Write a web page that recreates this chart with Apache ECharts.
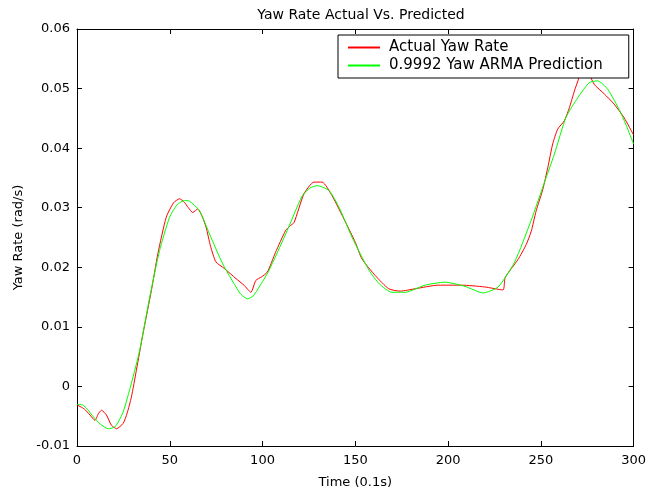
<!DOCTYPE html>
<html>
<head>
<meta charset="utf-8">
<script src="https://cdn.jsdelivr.net/npm/echarts@6/dist/echarts.min.js"></script>
<style>html,body{margin:0;padding:0;background:#fff}#c{width:649px;height:496px}</style>
</head>
<body>
<div id="c"></div>
<script>
const titleText = 'Yaw Rate Actual Vs. Predicted';
const xName = 'Time (0.1s)';
const yName = 'Yaw Rate (rad/s)';
const seriesNames = ['Actual Yaw Rate', '0.9992 Yaw ARMA Prediction'];
const xTicks = [0, 50, 100, 150, 200, 250, 300];
const yTicks = [-0.01, 0, 0.01, 0.02, 0.03, 0.04, 0.05, 0.06];
const yTickLabels = ['-0.01', '0', '0.01', '0.02', '0.03', '0.04', '0.05', '0.06'];

const actualYaw = [
  [0,-0.0031],[4,-0.0038],[7,-0.0048],[9.7,-0.0057],[11.5,-0.0046],[13.2,-0.0040],[15.9,-0.0048],
  [18.5,-0.0065],[21.3,-0.0071],[24.9,-0.0062],[27,-0.0045],[29.3,-0.0018],[32,0.0027],[35.6,0.0089],
  [40.1,0.0161],[43.6,0.0223],[48.1,0.0284],[52,0.0308],[55.3,0.0315],[57.9,0.0309],[60,0.0300],
  [62.4,0.0292],[65.1,0.0298],[67.5,0.0285],[69.6,0.0267],[72,0.0235],[74.9,0.0209],[79.4,0.0198],
  [85.7,0.0181],[90,0.0170],[93.7,0.0158],[96.4,0.0178],[99.5,0.0184],[102.6,0.0192],[107,0.0225],
  [112.5,0.0262],[115,0.0270],[117,0.0275],[122.3,0.0323],[127.7,0.0343],[132.1,0.0343],[137.5,0.0320],
  [144.7,0.0276],[150,0.0242],[153.6,0.0214],[160.8,0.0186],[168,0.0164],[174.2,0.0160],[182.3,0.0164],
  [194.7,0.0170],[207.2,0.0170],[219.7,0.0167],[229.6,0.0162],[230.8,0.0183],[237.7,0.0213],
  [242.1,0.0238],[244.8,0.0260],[247.5,0.0295],[251.1,0.0331],[253.8,0.0368],[256.4,0.0407],
  [259.1,0.0432],[262.7,0.0446],[265.4,0.0468],[268.1,0.0496],[270,0.0513],[273,0.0542],[276,0.0525],
  [278.8,0.0507],[284.2,0.0491],[289.5,0.0474],[294.9,0.0451],[300,0.0422]
];

const predictedYaw = [
  [0,-0.0030],[3,-0.0031],[5.5,-0.0038],[8.8,-0.0051],[12.5,-0.0063],[16.8,-0.0071],[20.4,-0.0068],
  [22.5,-0.0058],[24.9,-0.0043],[29.3,0.0005],[33.8,0.0061],[39.2,0.0150],[44.5,0.0228],[49.9,0.0284],
  [54,0.0305],[57.9,0.0312],[60.6,0.0311],[66,0.0295],[71.4,0.0256],[78.5,0.0206],[85.7,0.0167],
  [88.5,0.0154],[91.9,0.0147],[95,0.0152],[98.2,0.0167],[103.2,0.0193],[112.5,0.0256],[121.4,0.0320],
  [125.5,0.0333],[129.4,0.0337],[135.8,0.0329],[141.2,0.0301],[148.3,0.0250],[157.4,0.0195],
  [163,0.0172],[169.7,0.0158],[176.9,0.0158],[187.6,0.0170],[198.3,0.0175],[209.1,0.0168],
  [218.9,0.0157],[227,0.0167],[235.9,0.0209],[244.8,0.0279],[252,0.0343],[257.3,0.0390],
  [263.6,0.0452],[270,0.0485],[276.1,0.0510],[280.6,0.0513],[286,0.0499],[292.2,0.0465],
  [295.8,0.0440],[300,0.0407]
];

const font = 'DejaVu Sans';
const xMin = xTicks[0], xMax = xTicks[xTicks.length - 1], xStep = xTicks[1] - xTicks[0];
const yMin = yTicks[0], yMax = yTicks[yTicks.length - 1], yStep = 0.01;
const yFmt = v => yTickLabels[Math.round((v - yMin) / yStep)] || '';

const chart = echarts.init(document.getElementById('c'), null, {renderer: 'canvas'});
const axisCommon = {
  type: 'value',
  axisLine: {show: true, onZero: false, lineStyle: {color: '#000', width: 1}},
  axisTick: {show: true, inside: true, length: 5, lineStyle: {color: '#000'}},
  splitLine: {show: false}
};
chart.setOption({
  animation: false,
  backgroundColor: '#fff',
  title: {
    text: titleText, left: 356, top: 3, textAlign: 'center',
    textStyle: {fontFamily: font, fontSize: 14, fontWeight: 'normal', color: '#000'}
  },
  legend: {
    orient: 'vertical', left: 338, top: 35,
    padding: [5, 26, 5, 10], itemGap: 3, itemWidth: 32, itemHeight: 2, icon: 'rect',
    borderColor: '#000', borderWidth: 1, backgroundColor: '#fff',
    textStyle: {fontFamily: font, fontSize: 15, color: '#000', padding: [0, 0, 0, 4]},
    data: seriesNames
  },
  grid: {left: 77, right: 13, top: 29, bottom: 50, containLabel: false},
  xAxis: [
    Object.assign({}, axisCommon, {
      position: 'bottom', min: xMin, max: xMax, interval: xStep,
      name: xName, nameLocation: 'middle', nameGap: 30,
      nameTextStyle: {fontFamily: font, fontSize: 13, color: '#000'},
      axisLabel: {fontFamily: font, fontSize: 13, color: '#000', margin: 8}
    }),
    Object.assign({}, axisCommon, {
      position: 'top', min: xMin, max: xMax, interval: xStep, axisLabel: {show: false}
    })
  ],
  yAxis: [
    Object.assign({}, axisCommon, {
      position: 'left', min: yMin, max: yMax, interval: yStep,
      name: yName, nameLocation: 'middle', nameGap: 52,
      nameTextStyle: {fontFamily: font, fontSize: 13, color: '#000'},
      axisLabel: {fontFamily: font, fontSize: 13, color: '#000', margin: 7, formatter: yFmt}
    }),
    Object.assign({}, axisCommon, {
      position: 'right', min: yMin, max: yMax, interval: yStep, axisLabel: {show: false}
    })
  ],
  series: [
    {
      name: seriesNames[0], type: 'line', data: actualYaw, symbol: 'none', smooth: 0.2,
      lineStyle: {color: '#ff0000', width: 1}, itemStyle: {color: '#ff0000'}, z: 2
    },
    {
      name: seriesNames[1], type: 'line', data: predictedYaw, symbol: 'none', smooth: 0.2,
      lineStyle: {color: '#00ff00', width: 1}, itemStyle: {color: '#00ff00'}, z: 3
    }
  ]
});
</script>
</body>
</html>
